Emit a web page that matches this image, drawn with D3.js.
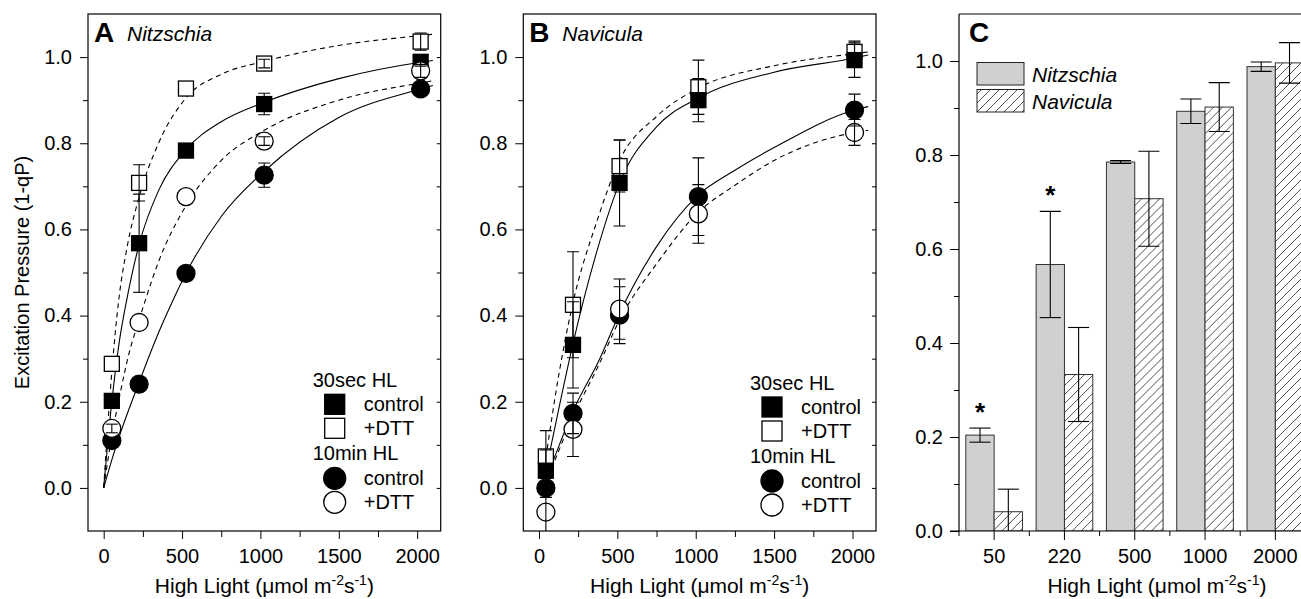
<!DOCTYPE html>
<html>
<head>
<meta charset="utf-8">
<script src="https://cdn.jsdelivr.net/npm/d3@7"></script>
<style>
	body { margin: 0; background: #fff; }
	svg { display: block; }
</style>
</head>
<body>
<svg id="chart" width="1301" height="599"></svg>
<script>
;( function() {

	"use strict";

	//light intensities the points sit at
	var lightNitz = [ 52, 226, 525, 1024, 2022 ],
		lightNav = [ 44, 217, 514, 1017, 2013 ];

	//panel A - Nitzschia, excitation pressure
	var nitz30Ctrl = [ 0.202, 0.568, 0.783, 0.891, 0.989 ],
		nitz30CtrlErr = [ 0.015, 0.114, 0.003, 0.025, 0.01 ],
		nitz30Dtt = [ 0.288, 0.708, 0.927, 0.985, 1.036 ],
		nitz30DttErr = [ 0, 0.042, 0, 0.01, 0.02 ],
		nitz10Ctrl = [ 0.110, 0.241, 0.498, 0.726, 0.926 ],
		nitz10CtrlErr = [ 0, 0, 0, 0.028, 0 ],
		nitz10Dtt = [ 0.138, 0.384, 0.676, 0.805, 0.968 ],
		nitz10DttErr = [ 0.01, 0, 0, 0.01, 0.015 ];

	//panel B - Navicula
	var nav30Ctrl = [ 0.040, 0.332, 0.708, 0.900, 0.993 ],
		nav30CtrlErr = [ 0.048, 0.1, 0.1, 0.05, 0.04 ],
		nav30Dtt = [ 0.073, 0.425, 0.747, 0.930, 1.012 ],
		nav30DttErr = [ 0.06, 0.123, 0.06, 0.063, 0.025 ],
		nav10Ctrl = [ 0.0, 0.173, 0.401, 0.676, 0.877 ],
		nav10CtrlErr = [ 0.022, 0.047, 0.066, 0.09, 0.037 ],
		nav10Dtt = [ -0.056, 0.136, 0.415, 0.636, 0.825 ],
		nav10DttErr = [ 0.05, 0.063, 0.07, 0.068, 0.03 ];

	//fitted curves, knots [light, value]
	var fitNitz30Ctrl = [ [0,0],[52,0.20],[100,0.34],[149,0.44],[226,0.565],[350,0.69],[525,0.785],[750,0.85],[1024,0.895],[1500,0.95],[2022,0.988],[2100,0.992] ],
		fitNitz30Dtt = [ [0,0],[52,0.27],[96,0.436],[150,0.56],[226,0.675],[350,0.80],[525,0.905],[750,0.96],[1024,0.99],[1500,1.027],[2022,1.05],[2100,1.053] ],
		fitNitz10Ctrl = [ [0,0],[52,0.065],[100,0.12],[226,0.245],[350,0.36],[443,0.436],[525,0.498],[750,0.63],[1024,0.735],[1500,0.86],[2022,0.926],[2100,0.934] ],
		fitNitz10Dtt = [ [0,0],[52,0.12],[100,0.21],[160,0.31],[226,0.39],[266,0.436],[350,0.525],[525,0.655],[750,0.76],[1024,0.83],[1500,0.9],[2022,0.94],[2100,0.945] ],
		fitNav30Ctrl = [ [44,0.04],[130,0.19],[217,0.335],[366,0.545],[514,0.708],[750,0.838],[1017,0.905],[1500,0.965],[2013,0.998],[2100,1.005] ],
		fitNav30Dtt = [ [44,0.07],[130,0.27],[217,0.43],[366,0.615],[514,0.76],[750,0.862],[1017,0.928],[1500,0.98],[2013,1.008],[2100,1.012] ],
		fitNav10Ctrl = [ [60,0.035],[130,0.10],[217,0.178],[388,0.30],[514,0.405],[750,0.56],[1017,0.68],[1240,0.735],[1500,0.79],[2013,0.877],[2100,0.885] ],
		fitNav10Dtt = [ [60,0.025],[130,0.09],[217,0.165],[388,0.29],[514,0.39],[750,0.52],[1017,0.64],[1240,0.70],[1500,0.76],[2013,0.825],[2100,0.83] ];

	//panel C - 30 sec control, both species
	var barCats = [ "50", "220", "500", "1000", "2000" ],
		barSpecies = [ "Nitzschia", "Navicula" ],
		nitzBar = [ 0.204, 0.567, 0.785, 0.893, 0.988 ],
		nitzBarErr = [ 0.015, 0.113, 0.003, 0.026, 0.01 ],
		navBar = [ 0.041, 0.333, 0.707, 0.902, 0.996 ],
		navBarErr = [ 0.048, 0.1, 0.101, 0.052, 0.043 ],
		barSignificant = [ true, true, false, false, false ];

	//ticks
	var xTicks = [ 0, 500, 1000, 1500, 2000 ],
		xMinorTicks = [ 250, 750, 1250, 1750 ],
		yTicks = [ 0.0, 0.2, 0.4, 0.6, 0.8, 1.0 ],
		yMinorTicks = [ 0.1, 0.3, 0.5, 0.7, 0.9 ];

	var font = "'Liberation Sans', Arial, Helvetica, sans-serif",
		plotTop = 14,
		plotBottom = 531,
		svg = d3.select( "#chart" ),
		defs = svg.append( "defs" );

	svg.append( "rect" ).attr( "width", 1301 ).attr( "height", 599 ).attr( "fill", "#fff" );

	//hatching for Navicula bars
	var hatch = defs.append( "pattern" )
		.attr( "id", "hatch" )
		.attr( "patternUnits", "userSpaceOnUse" )
		.attr( "width", 9 ).attr( "height", 9 );
	hatch.append( "rect" ).attr( "width", 9 ).attr( "height", 9 ).attr( "fill", "#fff" );
	hatch.append( "path" )
		.attr( "d", "M-2,2 l4,-4 M0,9 l9,-9 M7,11 l4,-4" )
		.attr( "stroke", "#222" ).attr( "stroke-width", 0.8 );

	var styleAxis = function( g ) {
		g.selectAll( ".domain" ).remove();
		g.selectAll( ".tick line" ).attr( "stroke", "#000" );
		g.selectAll( ".tick text" )
			.attr( "font-size", 20 )
			.attr( "font-family", font )
			.attr( "fill", "#000" );
	};

	var xLabel = function( cx ) {
		var t = svg.append( "text" )
			.attr( "x", cx ).attr( "y", 593 )
			.attr( "text-anchor", "middle" )
			.attr( "font-family", font ).attr( "font-size", 21 );
		t.append( "tspan" ).text( "High Light (\u03bcmol m" );
		t.append( "tspan" ).attr( "dy", -8 ).attr( "font-size", 14 ).text( "-2" );
		t.append( "tspan" ).attr( "dy", 8 ).text( "s" );
		t.append( "tspan" ).attr( "dy", -8 ).attr( "font-size", 14 ).text( "-1" );
		t.append( "tspan" ).attr( "dy", 8 ).text( ")" );
	};

	var panelTitle = function( x, letter, name ) {
		svg.append( "text" )
			.attr( "x", x ).attr( "y", 42 )
			.attr( "font-family", font ).attr( "font-size", 28 ).attr( "font-weight", "bold" )
			.text( letter );
		if( name ) {
			svg.append( "text" )
				.attr( "x", x + 33 ).attr( "y", 41 )
				.attr( "font-family", font ).attr( "font-size", 21 ).attr( "font-style", "italic" )
				.text( name );
		}
	};

	var drawMarker = function( sel, shape, filled, cx, cy, size ) {
		var m;
		if( shape === "square" ) {
			m = sel.append( "rect" )
				.attr( "x", cx - size / 2 ).attr( "y", cy - size / 2 )
				.attr( "width", size ).attr( "height", size );
		} else {
			m = sel.append( "circle" ).attr( "cx", cx ).attr( "cy", cy ).attr( "r", size / 2 + 1 );
		}
		m.attr( "fill", filled ? "#000" : "#fff" ).attr( "stroke", "#000" ).attr( "stroke-width", 1.3 );
	};

	function linePanel( cfg ) {

		var x = d3.scaleLinear().domain( [ -100, 2150 ] ).range( [ cfg.left, cfg.right ] ),
			y = d3.scaleLinear().domain( [ -0.1, 1.1 ] ).range( [ plotBottom, plotTop ] ),
			g = svg.append( "g" ).attr( "class", "panel-" + cfg.letter ),
			clipId = "clip-" + cfg.letter;

		defs.append( "clipPath" ).attr( "id", clipId ).append( "rect" )
			.attr( "x", cfg.left ).attr( "y", plotTop )
			.attr( "width", cfg.right - cfg.left ).attr( "height", plotBottom - plotTop );

		//axes
		g.append( "g" ).attr( "transform", "translate(0," + plotBottom + ")" )
			.call( d3.axisBottom( x ).tickValues( xTicks ).tickSize( 8 ).tickPadding( 10 ).tickFormat( d3.format( "d" ) ) )
			.call( styleAxis );
		g.append( "g" ).attr( "transform", "translate(0," + plotBottom + ")" )
			.call( d3.axisBottom( x ).tickValues( xMinorTicks ).tickSize( 6 ).tickFormat( "" ) )
			.call( styleAxis );
		g.append( "g" ).attr( "transform", "translate(" + cfg.left + ",0)" )
			.call( d3.axisLeft( y ).tickValues( yTicks ).tickSize( 8 ).tickPadding( 8 ).tickFormat( d3.format( ".1f" ) ) )
			.call( styleAxis );
		g.append( "g" ).attr( "transform", "translate(" + cfg.left + ",0)" )
			.call( d3.axisLeft( y ).tickValues( yMinorTicks ).tickSize( 5 ).tickFormat( "" ) )
			.call( styleAxis );
		g.append( "g" ).attr( "transform", "translate(" + cfg.right + ",0)" )
			.call( d3.axisLeft( y ).tickValues( yTicks.concat( yMinorTicks ) ).tickSize( 4 ).tickFormat( "" ) )
			.call( styleAxis );

		g.append( "rect" )
			.attr( "x", cfg.left ).attr( "y", plotTop )
			.attr( "width", cfg.right - cfg.left ).attr( "height", plotBottom - plotTop )
			.attr( "fill", "none" ).attr( "stroke", "#000" ).attr( "stroke-width", 1.2 );

		var plot = g.append( "g" ).attr( "clip-path", "url(#" + clipId + ")" );

		//fitted curves
		var line = d3.line()
			.x( function( d ) { return x( d[ 0 ] ); } )
			.y( function( d ) { return y( d[ 1 ] ); } )
			.curve( d3.curveMonotoneX );
		plot.selectAll( "path.fit" ).data( cfg.series ).enter()
			.append( "path" )
				.attr( "class", "fit" )
				.attr( "d", function( s ) { return line( s.fit ); } )
				.attr( "fill", "none" )
				.attr( "stroke", "#000" )
				.attr( "stroke-width", 1.1 )
				.attr( "stroke-dasharray", function( s ) { return s.filled ? null : "5,4"; } );

		//markers, then error bars on top
		cfg.series.forEach( function( s ) {
			s.values.forEach( function( v, i ) {
				drawMarker( plot, s.shape, s.filled, x( cfg.light[ i ] ), y( v ), s.shape === "square" ? 15 : 16 );
			} );
		} );
		cfg.series.forEach( function( s ) {
			s.values.forEach( function( v, i ) {
				var e = s.errors[ i ], cx = x( cfg.light[ i ] );
				if( !e ) {
					return;
				}
				var eb = plot.append( "g" ).attr( "stroke", "#000" ).attr( "stroke-width", 1.1 );
				eb.append( "line" ).attr( "x1", cx ).attr( "x2", cx ).attr( "y1", y( v - e ) ).attr( "y2", y( v + e ) );
				eb.append( "line" ).attr( "x1", cx - 6 ).attr( "x2", cx + 6 ).attr( "y1", y( v - e ) ).attr( "y2", y( v - e ) );
				eb.append( "line" ).attr( "x1", cx - 6 ).attr( "x2", cx + 6 ).attr( "y1", y( v + e ) ).attr( "y2", y( v + e ) );
			} );
		} );

		//legend
		var lg = g.append( "g" ).attr( "transform", "translate(" + cfg.legendX + "," + cfg.legendY + ")" )
				.attr( "font-family", font ).attr( "font-size", 20 ),
			rows = [
				{ label: "30sec HL", y: 0 },
				{ label: "control", y: 24, shape: "square", filled: true },
				{ label: "+DTT", y: 48, shape: "square", filled: false },
				{ label: "10min HL", y: 73 },
				{ label: "control", y: 98, shape: "circle", filled: true },
				{ label: "+DTT", y: 122, shape: "circle", filled: false }
			];
		rows.forEach( function( r ) {
			if( !r.shape ) {
				lg.append( "text" ).attr( "x", 0 ).attr( "y", r.y ).text( r.label );
			} else {
				drawMarker( lg, r.shape, r.filled, 22, r.y - 7, 20 );
				lg.append( "text" ).attr( "x", 51 ).attr( "y", r.y ).text( r.label );
			}
		} );

		panelTitle( cfg.left + 6, cfg.letter, cfg.name );
		xLabel( ( cfg.left + cfg.right ) / 2 );
	}

	linePanel( {
		letter: "A", name: "Nitzschia", left: 88, right: 440.7, light: lightNitz,
		legendX: 312.7, legendY: 387.3,
		series: [
			{ values: nitz30Ctrl, errors: nitz30CtrlErr, fit: fitNitz30Ctrl, shape: "square", filled: true },
			{ values: nitz30Dtt, errors: nitz30DttErr, fit: fitNitz30Dtt, shape: "square", filled: false },
			{ values: nitz10Ctrl, errors: nitz10CtrlErr, fit: fitNitz10Ctrl, shape: "circle", filled: true },
			{ values: nitz10Dtt, errors: nitz10DttErr, fit: fitNitz10Dtt, shape: "circle", filled: false }
		]
	} );

	linePanel( {
		letter: "B", name: "Navicula", left: 523.3, right: 876, light: lightNav,
		legendX: 750, legendY: 390,
		series: [
			{ values: nav30Dtt, errors: nav30DttErr, fit: fitNav30Dtt, shape: "square", filled: false },
			{ values: nav30Ctrl, errors: nav30CtrlErr, fit: fitNav30Ctrl, shape: "square", filled: true },
			{ values: nav10Ctrl, errors: nav10CtrlErr, fit: fitNav10Ctrl, shape: "circle", filled: true },
			{ values: nav10Dtt, errors: nav10DttErr, fit: fitNav10Dtt, shape: "circle", filled: false }
		]
	} );

	//y label shared by the left panel
	svg.append( "text" )
		.attr( "transform", "translate(29," + ( ( plotTop + plotBottom ) / 2 ) + ") rotate(-90)" )
		.attr( "text-anchor", "middle" )
		.attr( "font-family", font ).attr( "font-size", 20 )
		.text( "Excitation Pressure (1-qP)" );

	//panel C, bars
	( function() {
		var left = 959,
			right = 1310.5,
			x0 = d3.scaleBand().domain( barCats ).range( [ left, right ] ).paddingInner( 0.194 ).paddingOuter( 0.097 ),
			x1 = d3.scaleBand().domain( barSpecies ).range( [ 0, x0.bandwidth() ] ),
			y = d3.scaleLinear().domain( [ 0, 1.1 ] ).range( [ plotBottom, plotTop ] ),
			g = svg.append( "g" ).attr( "class", "panel-C" ),
			gap = ( x0.step() - x0.bandwidth() ) / 2;

		defs.append( "clipPath" ).attr( "id", "clip-C" ).append( "rect" )
			.attr( "x", left ).attr( "y", plotTop ).attr( "width", right - left ).attr( "height", plotBottom - plotTop );

		g.append( "g" ).attr( "transform", "translate(" + left + ",0)" )
			.call( d3.axisLeft( y ).tickValues( yTicks ).tickSize( 9 ).tickPadding( 7 ).tickFormat( d3.format( ".1f" ) ) )
			.call( styleAxis );
		g.append( "g" ).attr( "transform", "translate(" + left + ",0)" )
			.call( d3.axisLeft( y ).tickValues( yMinorTicks ).tickSize( 5 ).tickFormat( "" ) )
			.call( styleAxis );

		var plot = g.append( "g" ).attr( "clip-path", "url(#clip-C)" ),
			rows = barCats.map( function( c, i ) {
				return [
					{ cat: c, sp: "Nitzschia", v: nitzBar[ i ], e: nitzBarErr[ i ], sig: barSignificant[ i ] },
					{ cat: c, sp: "Navicula", v: navBar[ i ], e: navBarErr[ i ], sig: false }
				];
			} );

		var groups = plot.selectAll( ".group" ).data( rows ).enter()
			.append( "g" )
				.attr( "class", "group" )
				.attr( "transform", function( d ) { return "translate(" + x0( d[ 0 ].cat ) + ",0)"; } );
		groups.selectAll( "rect" ).data( function( d ) { return d; } ).enter()
			.append( "rect" )
				.attr( "x", function( d ) { return x1( d.sp ); } )
				.attr( "y", function( d ) { return y( d.v ); } )
				.attr( "width", x1.bandwidth() )
				.attr( "height", function( d ) { return y( 0 ) - y( d.v ); } )
				.attr( "fill", function( d ) { return d.sp === "Nitzschia" ? "#cfd1d1" : "url(#hatch)"; } )
				.attr( "stroke", "#333" ).attr( "stroke-width", 1 );

		groups.selectAll( "g.err" ).data( function( d ) { return d; } ).enter()
			.append( "g" )
				.attr( "class", "err" )
				.attr( "stroke", "#000" ).attr( "stroke-width", 1.1 )
				.each( function( d ) {
					var cx = x1( d.sp ) + x1.bandwidth() / 2, e = d3.select( this );
					e.append( "line" ).attr( "x1", cx ).attr( "x2", cx ).attr( "y1", y( d.v - d.e ) ).attr( "y2", y( d.v + d.e ) );
					e.append( "line" ).attr( "x1", cx - 10.5 ).attr( "x2", cx + 10.5 ).attr( "y1", y( d.v - d.e ) ).attr( "y2", y( d.v - d.e ) );
					e.append( "line" ).attr( "x1", cx - 10.5 ).attr( "x2", cx + 10.5 ).attr( "y1", y( d.v + d.e ) ).attr( "y2", y( d.v + d.e ) );
				} );

		//significance stars
		groups.selectAll( "text.star" ).data( function( d ) { return d.filter( function( b ) { return b.sig; } ); } ).enter()
			.append( "text" )
				.attr( "class", "star" )
				.attr( "x", function( d ) { return x1( d.sp ) + x1.bandwidth() / 2; } )
				.attr( "y", function( d ) { return y( d.v + d.e ) - 7; } )
				.attr( "text-anchor", "middle" )
				.attr( "font-family", font ).attr( "font-size", 26 ).attr( "font-weight", "bold" )
				.text( "*" );

		//frame
		g.append( "line" ).attr( "x1", left ).attr( "x2", 1301 ).attr( "y1", plotTop ).attr( "y2", plotTop ).attr( "stroke", "#000" ).attr( "stroke-width", 1.2 );
		g.append( "line" ).attr( "x1", left ).attr( "x2", left ).attr( "y1", plotTop ).attr( "y2", plotBottom ).attr( "stroke", "#000" ).attr( "stroke-width", 1.2 );
		g.append( "line" ).attr( "x1", left - 9 ).attr( "x2", 1301 ).attr( "y1", plotBottom ).attr( "y2", plotBottom ).attr( "stroke", "#000" ).attr( "stroke-width", 1.2 );

		//category ticks at the centres, short ones between groups
		var xAxis = g.append( "g" ).attr( "stroke", "#000" ).attr( "stroke-width", 1 );
		barCats.forEach( function( c ) {
			var cx = x0( c ) + x0.bandwidth() / 2;
			xAxis.append( "line" ).attr( "x1", cx ).attr( "x2", cx ).attr( "y1", plotBottom ).attr( "y2", plotBottom + 9 );
			xAxis.append( "line" ).attr( "x1", x0( c ) - gap ).attr( "x2", x0( c ) - gap ).attr( "y1", plotBottom ).attr( "y2", plotBottom + 5 );
			g.append( "text" )
				.attr( "x", cx ).attr( "y", 563 )
				.attr( "text-anchor", "middle" )
				.attr( "font-family", font ).attr( "font-size", 20 )
				.text( c );
		} );

		//legend
		var lg = g.append( "g" ).attr( "font-family", font ).attr( "font-size", 21 ).attr( "font-style", "italic" );
		barSpecies.forEach( function( sp, i ) {
			lg.append( "rect" )
				.attr( "x", 977 ).attr( "y", 62.5 + i * 27 )
				.attr( "width", 47 ).attr( "height", 22.5 )
				.attr( "fill", sp === "Nitzschia" ? "#cfd1d1" : "url(#hatch)" )
				.attr( "stroke", "#222" ).attr( "stroke-width", 1 );
			lg.append( "text" ).attr( "x", 1032 ).attr( "y", 81.5 + i * 27 ).text( sp );
		} );

		panelTitle( 969, "C", null );
		xLabel( 1157 );
	} )();

} )();
</script>
</body>
</html>
